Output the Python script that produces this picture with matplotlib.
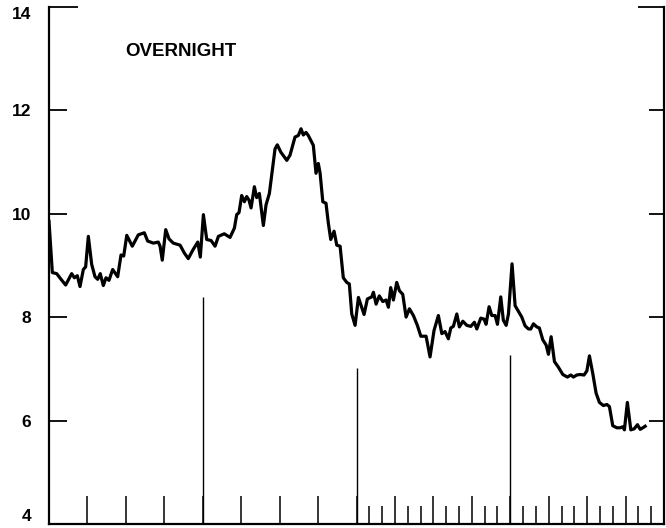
import matplotlib
matplotlib.use("Agg")
import matplotlib.pyplot as plt
import numpy as np

# Overnight rate (x in months from start, y in percent)
months = [0.00, 0.26, 0.60, 0.94, 1.30, 1.77, 1.98, 2.21, 2.42, 2.68, 2.86, 3.07, 3.33, 3.59, 3.80,
          4.00, 4.24, 4.45, 4.68, 4.97, 5.36, 5.62, 5.83, 6.07, 6.50, 6.97, 7.44, 7.70, 8.14, 8.53,
          8.67, 8.84, 9.11, 9.37, 9.70, 10.23, 10.56, 10.87, 11.26, 11.61, 11.81, 12.05, 12.31, 12.65,
          12.96, 13.22, 13.68, 14.13, 14.47, 14.65, 14.83, 15.04, 15.25, 15.43, 15.61, 15.77, 16.03,
          16.21, 16.42, 16.73, 16.94, 17.20, 17.38, 17.64, 17.82, 18.09, 18.56, 18.81, 19.20, 19.46,
          19.67, 19.85, 20.06, 20.24, 20.63, 20.84, 21.02, 21.16, 21.37, 21.62, 21.80, 21.99, 22.25,
          22.46, 22.72, 22.97, 23.24, 23.44, 23.63, 23.89, 24.15, 24.59, 24.85, 25.19, 25.32, 25.53,
          25.78, 26.05, 26.31, 26.49, 26.67, 26.88, 27.14, 27.35, 27.61, 27.87, 28.13, 28.44, 28.75,
          29.02, 29.43, 29.74, 30.05, 30.39, 30.66, 30.91, 31.17, 31.36, 31.56, 31.83, 32.03, 32.30,
          32.61, 32.92, 33.20, 33.39, 33.70, 33.96, 34.11, 34.35, 34.56, 34.82, 35.00, 35.26, 35.46,
          35.68, 35.86, 36.14, 36.38, 36.64, 36.90, 37.16, 37.42, 37.60, 37.81, 38.07, 38.27, 38.54,
          38.80, 38.98, 39.19, 39.45, 39.76, 40.10, 40.46, 40.73, 40.93, 41.19, 41.45, 41.76, 41.98,
          42.18, 42.44, 42.70, 42.96, 43.27, 43.54, 43.74, 44.00, 44.32, 44.57, 44.79, 44.91, 45.14,
          45.41, 45.67, 45.93, 46.14, 46.35, 46.53]
rate = [9.85, 8.86, 8.84, 8.73, 8.62, 8.84, 8.76, 8.80, 8.59, 8.92, 8.97, 9.56, 9.02, 8.78, 8.73,
        8.84, 8.61, 8.76, 8.71, 8.92, 8.78, 9.20, 9.18, 9.58, 9.37, 9.59, 9.63, 9.47, 9.43, 9.45,
        9.37, 9.10, 9.69, 9.51, 9.43, 9.39, 9.24, 9.13, 9.31, 9.45, 9.16, 9.98, 9.50, 9.48,
        9.37, 9.56, 9.61, 9.54, 9.72, 9.98, 10.02, 10.35, 10.23, 10.33, 10.26, 10.11, 10.52,
        10.31, 10.39, 9.77, 10.17, 10.39, 10.74, 11.25, 11.33, 11.19, 11.03, 11.13, 11.48, 11.51,
        11.64, 11.52, 11.57, 11.51, 11.32, 10.78, 10.97, 10.78, 10.23, 10.20, 9.82, 9.50, 9.66,
        9.39, 9.37, 8.76, 8.67, 8.64, 8.06, 7.84, 8.38, 8.05, 8.35, 8.39, 8.48, 8.25,
        8.41, 8.30, 8.33, 8.19, 8.57, 8.33, 8.67, 8.51, 8.44, 8.00, 8.16, 8.03, 7.84,
        7.63, 7.63, 7.23, 7.74, 8.03, 7.68, 7.72, 7.58, 7.79, 7.82, 8.06, 7.81, 7.92,
        7.84, 7.82, 7.90, 7.77, 7.98, 7.96, 7.86, 8.20, 8.03, 8.03, 7.86, 8.39, 7.94,
        7.84, 8.06, 9.03, 8.22, 8.11, 8.00, 7.83, 7.77, 7.77, 7.87, 7.81, 7.79, 7.56,
        7.46, 7.28, 7.62, 7.14, 7.03, 6.89, 6.84, 6.88, 6.84, 6.88, 6.89, 6.88, 6.96,
        7.25, 6.91, 6.53, 6.35, 6.29, 6.31, 6.27, 5.90, 5.86, 5.86, 5.88, 5.82, 6.35,
        5.82, 5.84, 5.92, 5.83, 5.86, 5.89]

y_ticks = [4, 6, 8, 10, 12, 14]
y_labels = ["4", "6", "8", "10", "12", "14"]
year_marks = [12, 24, 36]
year_line_tops = [8.38, 7.01, 7.27]
quarter_ticks = [3, 6, 9, 12, 15, 18, 21, 24, 27, 30, 33, 36, 39, 42, 45]
month_ticks = [25, 26, 28, 29, 31, 32, 34, 35, 37, 38, 40, 41, 43, 44, 46, 47]
title_text = "OVERNIGHT"

W, H = 666, 528
fig = plt.figure(figsize=(W / 100, H / 100), dpi=100)
fig.patch.set_facecolor("white")
ax = fig.add_axes([49 / W, 4 / H, 615 / W, (524 - 6.7) / H])
ax.set_xlim(0, 48)
ax.set_ylim(4, 14)

ax.plot(months, rate, color="black", lw=2.3, solid_joinstyle="round")
ax.vlines(year_marks, 4, year_line_tops, color="black", lw=1.0)

for s in ["left", "right", "bottom"]:
    ax.spines[s].set_linewidth(1.6)
ax.spines["top"].set_visible(False)

font = dict(family=["Liberation Sans", "DejaVu Sans"], weight="bold", size=12.5)

ax.set_yticks(y_ticks)
ax.set_yticklabels(y_labels, fontdict=font)
ax.tick_params(axis="y", which="major", left=True, right=True, direction="in",
               length=13, width=1.3, pad=13, labelleft=True, labelright=False)

ax.set_xticks(quarter_ticks)
ax.set_xticklabels([])
ax.set_xticks(month_ticks, minor=True)
ax.tick_params(axis="x", which="major", direction="in", length=20, width=1.1,
               bottom=True, top=False, labelbottom=False)
ax.tick_params(axis="x", which="minor", direction="in", length=13, width=1.1,
               bottom=True, top=False)

ticks = ax.yaxis.get_major_ticks()
for t in ticks:
    t.tick2line.set_markersize(11)
ticks[-1].tick1line.set_markersize(21)
ticks[-1].tick2line.set_markersize(19)
ticks[0].label1.set_verticalalignment("bottom")
ticks[-1].label1.set_verticalalignment("top")

ax.text((125 - 49) / 615, (524 - 52) / 517.3, title_text, transform=ax.transAxes,
        ha="left", va="center", family=["Liberation Sans", "DejaVu Sans"],
        weight="bold", size=13.5)

fig.savefig("out.png", dpi=100, facecolor="white")
